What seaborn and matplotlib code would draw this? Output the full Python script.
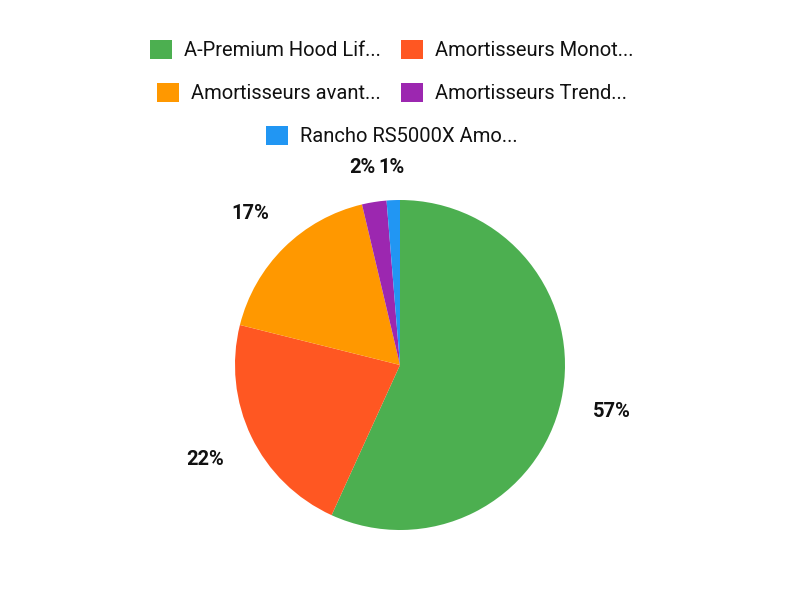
import numpy as np
import matplotlib
matplotlib.use("Agg")
import matplotlib.pyplot as plt
from matplotlib.patches import Patch
import seaborn as sns

labels = ["A-Premium Hood Lif...", "Amortisseurs Monot...", "Amortisseurs avant...",
          "Amortisseurs Trend...", "Rancho RS5000X Amo..."]
values = [56.8, 22.1, 17.4, 2.4, 1.3]
colors = ["#4CAF50", "#FF5722", "#FF9800", "#9C27B0", "#2196F3"]

sns.set_style("white")
plt.rcParams["font.family"] = ["Roboto", "DejaVu Sans"]

fig = plt.figure(figsize=(8, 6), dpi=100)
ax = fig.add_axes([235 / 800, 70 / 600, 330 / 800, 330 / 600])

wedges, _ = ax.pie(values, colors=colors, startangle=90, counterclock=False,
                   radius=1, wedgeprops=dict(linewidth=0))
ax.set_xlim(-1, 1)
ax.set_ylim(-1, 1)
ax.axis("off")

# percentage labels placed outside, pushed by half the text size
total = sum(values)
px = 1 / 165
texts = []
for w, v in zip(wedges, values):
    ang = np.deg2rad((w.theta1 + w.theta2) / 2)
    c, s = np.cos(ang), np.sin(ang)
    r = 1.14 + (28 * abs(c) + 8 * abs(s)) * px
    t = ax.text(r * c, r * s, f"{v / total * 100:.0f}%", ha="center", va="center",
                fontsize=14.5, fontweight="bold", color="#111111")
    texts.append(t)

# push apart labels of neighbouring thin slices
fig.canvas.draw()
rend = fig.canvas.get_renderer()
for a, b in zip(texts[:-1], texts[1:]):
    ba, bb = a.get_window_extent(rend), b.get_window_extent(rend)
    if ba.overlaps(bb):
        shift = (min(ba.x1, bb.x1) - max(ba.x0, bb.x0) + 3) * px
        left = a if ba.x0 < bb.x0 else b
        x, y = left.get_position()
        left.set_position((x - shift, y))

# legend rows, each centered
rows = [[0, 1], [2, 3], [4]]
row_y = [50, 93, 136]
for idx, y in zip(rows, row_y):
    handles = [Patch(facecolor=colors[i], edgecolor="none") for i in idx]
    fig.legend(handles, [labels[i] for i in idx], loc="center",
               bbox_to_anchor=(0.49, 1 - y / 600), ncol=len(idx), frameon=False,
               fontsize=14.5, handlelength=1.1, handleheight=1.1,
               handletextpad=0.6, columnspacing=1.0, labelcolor="#111111")

fig.savefig("out.png", dpi=100)
